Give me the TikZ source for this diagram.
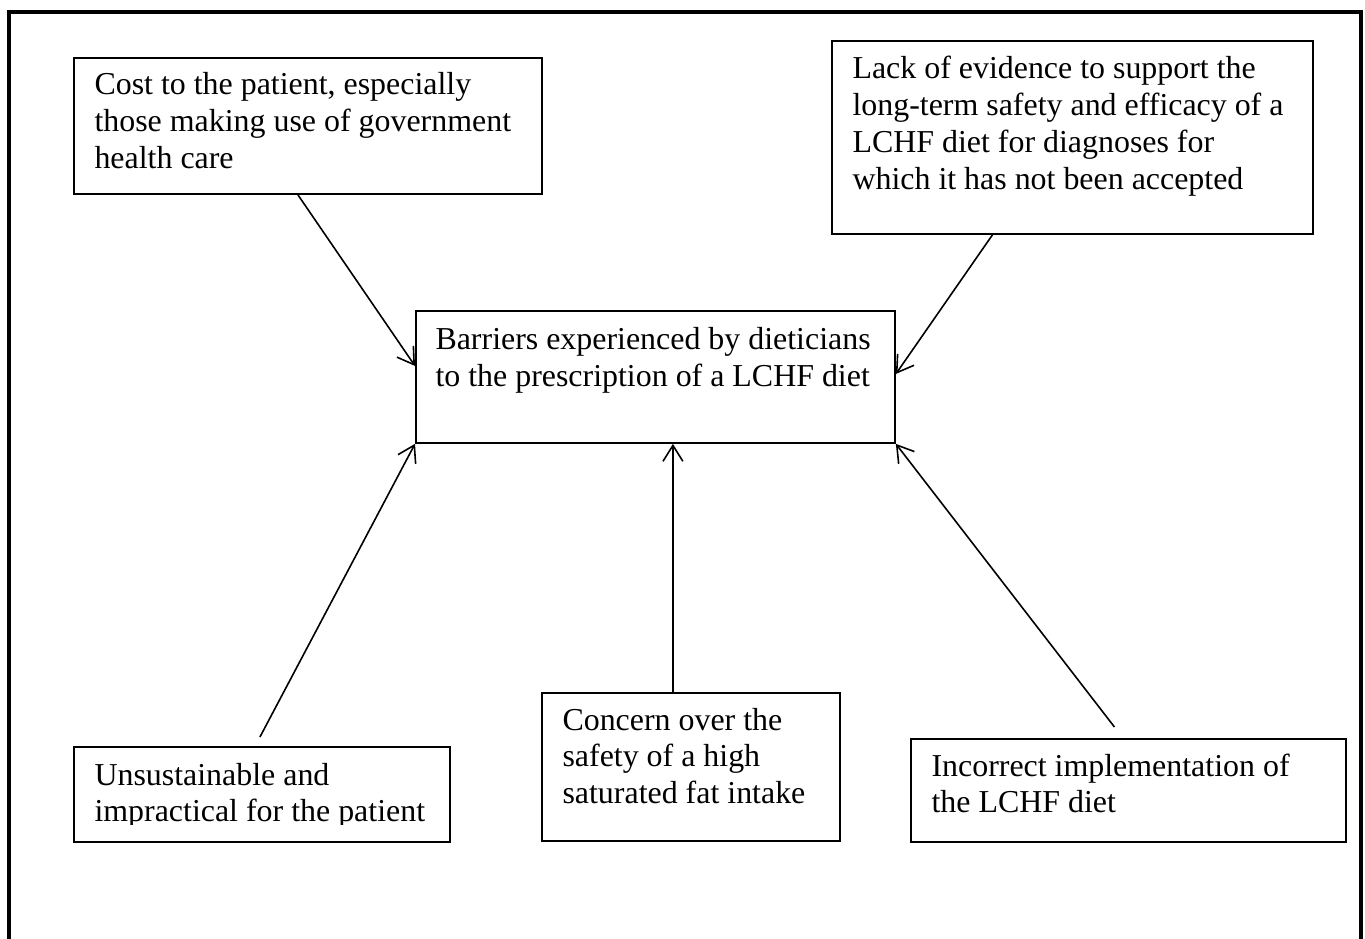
\documentclass[tikz,border=0pt]{standalone}
\usepackage{fontspec}
\setmainfont{Liberation Serif}
\usetikzlibrary{arrows.meta,calc}

\newcommand{\pxu}{0.376pt}
\tikzset{
  barrier/.style 2 args={draw, line width=0.7pt, anchor=north west, inner sep=0pt,
    minimum width=#1*\pxu, minimum height=#2*\pxu},
  boxtext/.style={anchor=base west, inner sep=0pt, font=\fontsize{12}{13.8}\selectfont},
  cause/.style={-{Straight Barb[length=6pt,width=7.5pt]}, line width=0.6pt},
  frame/.style={line width=1.7pt}
}

\begin{document}
\begin{tikzpicture}[x=\pxu, y=-\pxu]
  \useasboundingbox (0,0) rectangle (1365,939);
  \draw[frame] (9,960) -- (9,12) -- (1361,12) -- (1361,960);

  \node[barrier={468}{136}] (cost) at (73,57) {};
  \node[boxtext] (costtext) at ([shift={(21,38)}]cost.north west)
    {\parbox[t]{12cm}{Cost to the patient, especially\\
      those making use of government\\health care}};

  \node[barrier={481}{193}] (lack) at (831,40) {};
  \node[boxtext] (lacktext) at ([shift={(21,39)}]lack.north west)
    {\parbox[t]{12cm}{Lack of evidence to support the\\
      long-term safety and efficacy of a\\
      LCHF diet for diagnoses for\\
      which it has not been accepted}};

  \node[barrier={479}{132}] (centre) at (415,310) {};
  \node[boxtext] (centretext) at ([shift={(20,40)}]centre.north west)
    {\parbox[t]{12cm}{Barriers experienced by dieticians\\
      to the prescription of a LCHF diet}};

  \node[barrier={376}{95}] (unsust) at (73,746) {};
  \begin{scope}
    \clip (unsust.north west) rectangle ($(unsust.south east)+(0,-18)$);
    \node[boxtext] (unsusttext) at ([shift={(21,39)}]unsust.north west)
      {\parbox[t]{12cm}{Unsustainable and\\
        impractical for the patient}};
  \end{scope}

  \node[barrier={298}{148}] (concern) at (541,692) {};
  \node[boxtext] (concerntext) at ([shift={(21,38)}]concern.north west)
    {\parbox[t]{12cm}{Concern over the\\
      safety of a high\\saturated fat intake}};

  \node[barrier={435}{103}] (incorrect) at (910,738) {};
  \node[boxtext] (incorrecttext) at ([shift={(21,38)}]incorrect.north west)
    {\parbox[t]{12cm}{Incorrect implementation of\\
      the LCHF diet}};

  \coordinate (concerntop) at ($(concern.north)+(-18,0)$);

  \draw[cause] ($(cost.south)+(-10,0)$) -- ($(centre.west)+(0,-11)$);
  \draw[cause] ($(lack.south)+(-80,0)$) -- ($(centre.east)+(0,-3)$);
  \draw[cause] ($(unsust.north)+(-2,-9)$) -- (centre.south west);
  \draw[cause] (concerntop) -- (concerntop |- centre.south);
  \draw[cause] ($(incorrect.north)+(-14,-11)$) -- (centre.south east);
\end{tikzpicture}
\end{document}
